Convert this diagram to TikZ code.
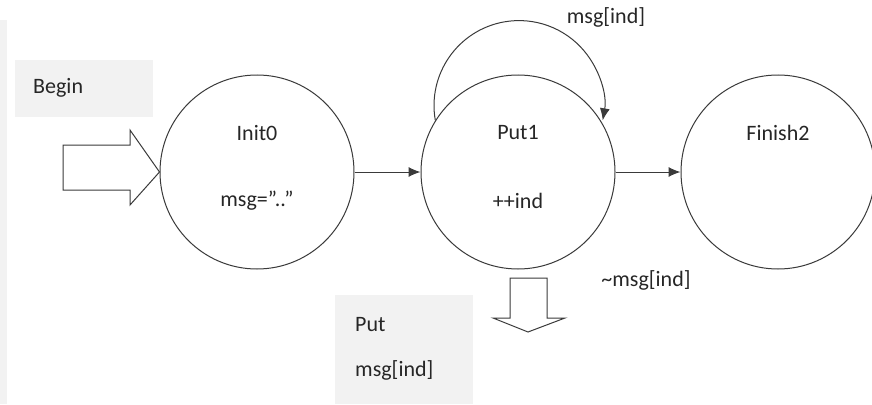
\documentclass[tikz,border=0pt]{standalone}
\usepackage{fontspec}
\setmainfont{Carlito}
\usetikzlibrary{arrows.meta}
\definecolor{ln}{HTML}{3A3A3A}
\definecolor{boxg}{HTML}{F2F2F2}
\begin{document}
\begin{tikzpicture}[x=1pt,y=-1pt,
  state/.style={circle,draw=ln,line width=1pt,minimum size=194pt,inner sep=0pt,fill=white},
  txt/.style={inner sep=0pt,font=\fontsize{22}{26}\selectfont,text=black!85},
  conn/.style={draw=ln,line width=1pt,-{Latex[length=12pt,width=10pt]}},
  blockarrow/.style={draw=ln,line width=1pt,fill=white,line join=miter}]
\useasboundingbox (0,0) rectangle (872,404);
% left grey strip
\fill[boxg] (0,20) rectangle (7,404);
% Begin box
\node[fill=boxg,minimum width=138pt,minimum height=57pt,inner sep=0pt] (beginbox) at (84,88.5) {};
\node[txt,anchor=west] (begintxt) at (33,88) {Begin};
% states
\node[state] (init) at (257,172) {};
\node[state] (put) at (518,172) {};
\node[state] (fin) at (778,172) {};
\node[txt] (initname) at (257,133) {Init0};
\node[txt] (initact) at (257,201) {msg=”..”};
\node[txt] (putname) at (518,133) {Put1};
\node[txt] (putact) at (518,201) {++ind};
\node[txt] (finname) at (778,133) {Finish2};
% block arrow into Init0
\draw[blockarrow] (63,145) -- (130,145) -- (130,130) -- (init.west) -- (130,205) -- (130,190) -- (63,190) -- cycle;
% connectors
\draw[conn] (init.east) -- (put.west);
\draw[conn] (put.east) -- (fin.west);
% self loop
\draw[conn] (put.148) arc[start angle=170, end angle=370, radius=85];
\node[txt] (looplbl) at (606,17) {msg[ind]};
\node[txt] (notlbl) at (646,280) {\textasciitilde msg[ind]};
% down block arrow
\coordinate (dtip) at (528,332);
\draw[blockarrow] (510,278) -- (547,278) -- (547,318) -- (565,318) -- (dtip) -- (493,318) -- (510,318) -- cycle;
% Put msg box
\node[fill=boxg,minimum width=138pt,minimum height=109pt,inner sep=0pt] (putbox) at (404,349) {};
\node[txt,anchor=west] (putbox1) at (355,325) {Put};
\node[txt,anchor=west] (putbox2) at (355,370) {msg[ind]};
\end{tikzpicture}
\end{document}
